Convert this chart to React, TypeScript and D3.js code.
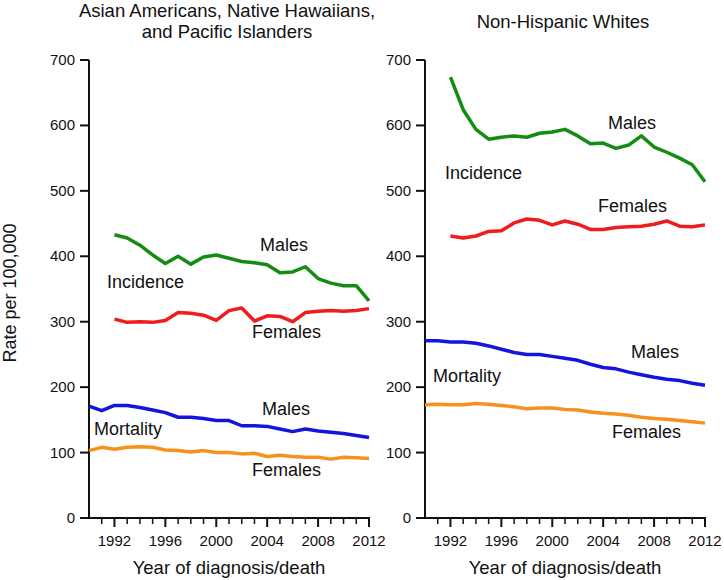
import React from "react";
import * as d3 from "d3";

const yearsAll = d3.range(1990, 2013);
const yearsInc = d3.range(1992, 2013);

// Asian Americans, Native Hawaiians, and Pacific Islanders
const apiIncMales = [433, 428, 417, 402, 389, 400, 388, 399, 402, 397, 392, 390, 387, 375, 376, 384, 366, 359, 355, 355, 332];
const apiIncFemales = [304, 299, 300, 299, 302, 314, 313, 310, 302, 317, 321, 301, 309, 308, 300, 314, 316, 317, 316, 317, 320];
const apiMortMales = [171, 164, 172, 172, 169, 165, 161, 154, 154, 152, 149, 149, 141, 141, 140, 136, 132, 136, 133, 131, 129, 126, 123];
const apiMortFemales = [103, 108, 105, 108, 109, 108, 104, 103, 101, 103, 100, 100, 98, 99, 94, 96, 94, 93, 93, 90, 93, 92, 91];

// Non-Hispanic Whites
const nhwIncMales = [674, 624, 594, 579, 582, 584, 582, 588, 590, 594, 584, 572, 573, 565, 570, 584, 567, 559, 550, 540, 514];
const nhwIncFemales = [431, 428, 431, 438, 439, 451, 457, 455, 448, 454, 449, 441, 441, 444, 445, 446, 449, 454, 446, 445, 448];
const nhwMortMales = [271, 271, 269, 269, 267, 263, 258, 253, 250, 250, 247, 244, 241, 235, 230, 228, 223, 219, 215, 212, 210, 206, 203];
const nhwMortFemales = [173, 174, 173, 173, 175, 174, 172, 170, 167, 168, 168, 166, 165, 162, 160, 159, 157, 154, 152, 151, 149, 147, 145];

const yTicks = [0, 100, 200, 300, 400, 500, 600, 700];
const xMajorTicks = [1992, 1996, 2000, 2004, 2008, 2012];

const COLORS = { incM: "#138c13", incF: "#ee1c1c", mortM: "#1414dc", mortF: "#f7911e" };
const FONT = "Arial, 'Liberation Sans', Helvetica, sans-serif";

type Label = { text: string; x: number; y: number };
type PanelProps = {
  x0: number;
  title: string[];
  titleY: number[];
  incM: number[];
  incF: number[];
  mortM: number[];
  mortF: number[];
  labels: Label[];
};

const yScale = d3.scaleLinear().domain([0, 700]).range([518, 60]);

function Panel({ x0, title, titleY, incM, incF, mortM, mortF, labels }: PanelProps) {
  const x = d3.scaleLinear().domain([1990, 2012]).range([x0, x0 + 280]);
  const mk = (years: number[], vals: number[]) =>
    d3.line<number>().x((_, i) => x(years[i])).y((v) => yScale(v))(vals) || "";
  const cx = (x(1990) + x(2012)) / 2;
  const series = [
    { d: mk(yearsInc, incM), c: COLORS.incM },
    { d: mk(yearsInc, incF), c: COLORS.incF },
    { d: mk(yearsAll, mortM), c: COLORS.mortM },
    { d: mk(yearsAll, mortF), c: COLORS.mortF },
  ];
  return (
    <g>
      {title.map((t, i) => (
        <text key={t} x={cx - 2} y={titleY[i]} textAnchor="middle" fontSize={18.5} fill="#111">
          {t}
        </text>
      ))}
      {/* y axis */}
      <line x1={x0} x2={x0} y1={yScale(700)} y2={yScale(0)} stroke="#111" strokeWidth={2} />
      {yTicks.map((t) => (
        <g key={t}>
          <line x1={x0 - 9} x2={x0} y1={yScale(t)} y2={yScale(t)} stroke="#111" strokeWidth={2} />
          <text x={x0 - 14} y={yScale(t) + 5} textAnchor="end" fontSize={15} fill="#111">
            {t}
          </text>
        </g>
      ))}
      {/* x axis */}
      <line x1={x0 - 1} x2={x(2012) + 1} y1={yScale(0)} y2={yScale(0)} stroke="#111" strokeWidth={2} />
      {yearsAll.slice(1).map((yr) => {
        const major = xMajorTicks.includes(yr);
        return (
          <line
            key={yr}
            x1={x(yr)}
            x2={x(yr)}
            y1={yScale(0)}
            y2={yScale(0) + (major ? 9 : 6)}
            stroke="#111"
            strokeWidth={major ? 2 : 1.5}
          />
        );
      })}
      {xMajorTicks.map((yr) => (
        <text key={yr} x={x(yr)} y={546} textAnchor="middle" fontSize={15} fill="#111">
          {yr}
        </text>
      ))}
      <text x={cx} y={574} textAnchor="middle" fontSize={18.5} fill="#111">
        Year of diagnosis/death
      </text>
      {series.map((s, i) => (
        <path key={i} d={s.d} fill="none" stroke={s.c} strokeWidth={3.5} strokeLinejoin="round" />
      ))}
      {labels.map((l, i) => (
        <text key={i} x={l.x} y={l.y} fontSize={18} fill="#111">
          {l.text}
        </text>
      ))}
    </g>
  );
}

export default function App() {
  return (
    <svg
      width={724}
      height={580}
      style={{ position: "absolute", left: 0, top: 0, background: "#fff", fontFamily: FONT }}
    >
      <rect width={724} height={580} fill="#fff" />
      <text transform="translate(16,293) rotate(-90)" textAnchor="middle" fontSize={18} fill="#111">
        Rate per 100,000
      </text>
      <Panel
        x0={89}
        title={["Asian Americans, Native Hawaiians,", "and Pacific Islanders"]}
        titleY={[17, 38]}
        incM={apiIncMales}
        incF={apiIncFemales}
        mortM={apiMortMales}
        mortF={apiMortFemales}
        labels={[
          { text: "Males", x: 260, y: 251 },
          { text: "Incidence", x: 107, y: 288 },
          { text: "Females", x: 252, y: 338 },
          { text: "Males", x: 262, y: 415 },
          { text: "Mortality", x: 94, y: 435 },
          { text: "Females", x: 252, y: 476 },
        ]}
      />
      <Panel
        x0={425}
        title={["Non-Hispanic Whites"]}
        titleY={[28]}
        incM={nhwIncMales}
        incF={nhwIncFemales}
        mortM={nhwMortMales}
        mortF={nhwMortFemales}
        labels={[
          { text: "Males", x: 608, y: 129 },
          { text: "Incidence", x: 445, y: 179 },
          { text: "Females", x: 598, y: 212 },
          { text: "Males", x: 631, y: 358 },
          { text: "Mortality", x: 433, y: 382 },
          { text: "Females", x: 612, y: 438 },
        ]}
      />
    </svg>
  );
}
